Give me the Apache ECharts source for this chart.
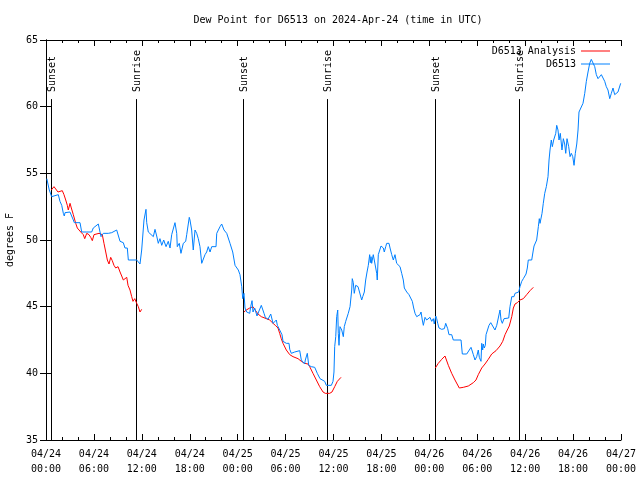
<!DOCTYPE html>
<html><head><meta charset="utf-8">
<script src="https://cdn.jsdelivr.net/npm/echarts@6/dist/echarts.min.js"></script>
<style>html,body{margin:0;padding:0;background:#fff}#c{width:640px;height:480px}</style>
</head><body><div id="c"></div>
<script>
// hours since 2024-04-24 00:00 UTC
var obsTimes = [0.1,0.41,0.71,0.91,1.54,1.75,1.97,2.17,2.29,2.38,3.0,3.22,3.42,3.54,4.26,4.47,5.10,5.72,5.92,6.14,6.55,6.76,6.89,7.18,7.80,8.23,8.43,8.85,9.05,9.27,9.48,9.68,9.89,10.18,10.31,11.36,11.77,11.98,12.27,12.52,12.61,12.81,13.44,13.65,13.86,14.06,14.27,14.49,14.74,15.03,15.31,15.53,15.74,16.15,16.28,16.37,16.44,16.69,16.90,17.19,17.49,17.62,17.94,18.03,18.24,18.44,18.66,18.87,19.07,19.28,19.50,19.70,19.91,20.12,20.32,20.54,20.75,21.29,21.38,21.79,22.0,22.29,22.63,23.04,23.38,23.67,23.88,24.08,24.29,24.51,24.63,24.79,24.92,25.13,25.51,25.63,25.80,25.92,26.13,26.42,26.55,26.96,27.17,27.30,27.46,27.80,28.14,28.43,28.84,28.97,29.14,29.39,29.55,29.68,29.89,30.09,30.43,30.52,30.72,30.93,31.14,31.77,31.97,32.18,32.39,32.47,32.72,32.90,33.22,33.65,33.97,34.15,34.31,34.47,34.90,35.10,35.73,35.94,36.06,36.15,36.28,36.40,36.53,36.60,36.69,36.81,37.03,37.23,37.35,37.53,37.78,37.85,38.07,38.28,38.35,38.48,38.60,38.78,38.91,39.07,39.32,39.53,39.66,39.86,40.03,40.20,40.36,40.53,40.61,40.70,40.78,40.98,41.20,41.41,41.48,41.61,41.73,41.95,42.11,42.24,42.36,42.54,42.66,42.95,43.08,43.29,43.49,43.70,43.91,44.11,44.33,44.54,44.74,44.87,45.17,45.45,45.70,45.87,46.04,46.21,46.42,46.62,46.83,46.96,47.12,47.25,47.46,47.67,47.87,48.08,48.30,48.50,48.62,48.80,48.92,49.05,49.21,49.55,49.88,50.05,50.30,50.46,50.80,51.0,51.97,52.13,52.68,52.88,53.22,53.38,53.51,53.72,53.93,54.13,54.26,54.47,54.56,54.68,54.76,54.88,55.01,55.10,55.31,55.47,55.69,55.94,56.22,56.44,56.64,56.85,56.98,57.14,57.35,57.94,58.10,58.32,58.60,58.73,58.94,59.19,59.35,59.57,59.77,60.11,60.27,60.39,60.82,61.02,61.11,61.32,61.44,61.65,61.77,61.86,62.02,62.11,62.27,62.45,62.65,62.86,62.99,63.11,63.27,63.40,63.57,63.83,63.95,64.11,64.24,64.40,64.61,64.78,64.95,65.08,65.24,65.45,65.62,65.78,65.96,66.12,66.28,66.46,66.62,66.74,66.96,67.24,67.46,67.66,67.87,68.08,68.28,68.50,68.71,68.91,69.12,69.54,69.75,69.96,70.16,70.37,70.59,70.79,71.0,71.21,71.41,71.62,71.83,71.96];
var obsValues = [54.6,53.75,53.25,53.4,53.4,52.9,52.6,52.0,51.8,52.05,52.1,52.0,51.5,51.3,51.3,50.6,50.6,50.6,50.9,51.0,51.2,51.2,50.25,50.5,50.5,50.55,50.6,50.75,50.75,49.9,49.75,49.8,49.4,49.4,48.5,48.5,48.2,49.25,51.5,52.3,51.3,50.6,50.25,50.8,50.3,49.75,50.1,49.6,50.0,49.5,49.9,49.4,50.4,51.3,51.4,50.5,49.5,49.75,49.0,49.75,49.9,50.4,51.7,51.5,50.75,49.25,50.75,50.5,50.1,49.5,48.25,48.25,48.9,49.1,49.5,49.1,49.5,49.5,50.5,51.0,51.2,50.75,50.5,49.75,49.1,48.1,47.95,47.75,47.4,46.5,45.6,46.0,44.9,44.6,44.5,45.0,45.45,44.6,44.9,44.3,44.5,45.1,44.95,44.5,44.2,44.05,44.45,43.75,44.0,43.6,43.4,43.25,42.9,42.4,42.45,42.25,42.25,41.8,41.5,41.4,41.6,41.7,41.0,40.9,40.7,41.0,41.5,40.6,40.5,40.45,40.0,39.9,39.6,39.5,39.4,39.1,39.1,39.4,40.1,42.0,42.75,44.25,44.75,43.0,42.1,43.5,43.25,42.75,43.5,43.9,44.0,44.5,45.0,46.25,47.1,46.8,46.0,46.6,46.75,46.5,46.4,45.5,45.75,46.1,47.0,47.6,48.1,48.9,48.3,48.75,48.25,48.9,48.9,47.5,47.0,48.9,49.0,49.55,49.6,49.4,49.1,49.5,49.75,49.75,49.4,48.9,48.5,48.9,48.25,48.1,48.0,47.5,47.0,46.4,46.1,45.9,45.8,45.4,44.9,44.5,44.25,44.1,44.4,44.6,44.0,43.6,44.2,44.0,43.9,44.2,43.9,44.1,43.7,44.3,44.1,43.75,43.4,43.3,43.35,43.75,43.35,42.9,42.9,42.5,42.5,41.45,41.45,41.5,41.95,41.8,41.4,41.0,41.25,41.75,41.2,40.9,42.25,41.75,42.2,41.9,42.1,42.9,42.8,43.6,43.8,43.8,43.25,43.6,43.7,44.75,44.0,43.75,44.1,44.15,45.0,45.75,45.75,46.0,46.1,46.1,46.5,46.9,47.1,47.45,47.9,48.5,48.5,49.25,49.55,49.55,50.0,51.0,51.6,51.25,51.3,52.0,52.75,53.5,54.0,54.75,56.0,56.75,57.5,57.0,57.5,58.0,58.6,58.25,57.5,58.0,56.75,57.6,57.2,56.5,57.6,57.0,56.25,56.5,56.25,55.6,56.5,57.2,58.25,59.6,59.75,60.25,61.0,61.9,62.6,63.25,63.55,63.4,63.0,62.4,62.1,62.4,62.25,61.9,61.5,61.25,60.6,61.0,61.4,60.9,61.0,61.1,61.25,61.75];
// analysis series; null marks a gap
var anaTimes = [0.66,1.0,1.21,1.50,1.75,2.04,2.25,2.47,2.67,2.79,3.01,3.17,3.42,3.72,3.92,4.13,4.35,4.67,4.85,5.10,5.38,5.60,5.80,6.01,6.22,6.64,6.85,7.05,7.26,7.48,7.68,7.89,8.10,8.30,8.51,8.73,9.02,9.27,9.48,9.68,9.89,10.11,10.27,10.52,10.73,10.89,11.11,11.36,11.56,11.77,11.98,
  18.0,
  24.79,25.08,25.51,25.92,26.13,26.55,26.96,27.59,28.01,28.43,28.71,29.05,29.26,29.46,29.68,30.09,30.52,30.93,31.56,31.97,32.39,32.81,33.02,33.43,33.85,34.27,34.69,34.97,35.52,35.81,36.15,36.48,36.94,
  42.0,
  48.75,49.12,49.55,49.96,50.38,50.80,51.21,51.75,52.25,52.88,53.51,53.84,54.13,54.56,54.97,55.38,55.81,56.35,56.85,57.19,57.48,57.76,58.01,58.32,58.52,58.73,59.02,59.35,59.77,60.19,60.61,61.02];
var anaValues = [53.75,54.0,53.9,53.6,53.45,53.7,53.4,53.0,52.6,52.25,52.75,52.4,51.9,51.25,50.9,50.9,50.6,50.4,50.1,50.5,50.4,50.2,49.95,50.4,50.5,50.5,50.6,50.4,49.75,49.1,48.5,48.2,48.7,48.45,48.1,47.9,48.0,47.6,47.3,47.0,46.9,47.2,46.6,46.25,45.75,45.4,45.6,45.25,45.0,44.6,44.8,
  null,
  44.6,44.75,44.9,45.0,44.8,44.45,44.25,44.1,44.0,43.75,43.6,43.4,43.0,42.6,42.25,41.75,41.4,41.25,41.1,40.9,40.75,40.7,40.5,40.0,39.5,39.0,38.6,38.5,38.5,38.6,39.0,39.4,39.7,
  null,
  40.4,40.75,41.05,41.3,40.6,40.0,39.5,38.9,38.95,39.05,39.3,39.5,39.9,40.4,40.7,41.05,41.45,41.7,42.05,42.4,42.9,43.25,43.55,44.25,44.9,45.2,45.3,45.5,45.6,45.9,46.2,46.45];
var sunTimes = [0.66, 11.3, 24.7, 35.22, 48.75, 59.27];
var sunLabels = ['Sunset','Sunrise','Sunset','Sunrise','Sunset','Sunrise'];
var yTicks = [35,40,45,50,55,60,65];

function zip(a,b){var r=[];for(var i=0;i<a.length;i++)r.push([a[i],b[i]]);return r;}
var FONT = 'DejaVu Sans Mono';
function xLabel(h){
  var d = 24 + Math.floor(h/24 + 1e-9);
  var hh = Math.round(h - (d-24)*24);
  return '04/' + d + '\n' + (hh<10?'0':'') + hh + ':00';
}
var chart = echarts.init(document.getElementById('c'), null, {renderer:'canvas'});
var axisCommon = {
  axisLine:{show:true, lineStyle:{color:'#000', width:1}},
  splitLine:{show:false}
};
chart.setOption({
  animation:false,
  backgroundColor:'#fff',
  title:{text:'Dew Point for D6513 on 2024-Apr-24 (time in UTC)', left:333, top:10, textAlign:'center',
    textStyle:{fontFamily:FONT, fontSize:10, fontWeight:'normal', color:'#000'}},
  legend:{data:[{name:'D6513 Analysis', icon:'rect'},{name:'D6513', icon:'rect'}], orient:'vertical', right:30, top:45, align:'right',
    padding:0, itemWidth:29, itemHeight:1, itemGap:1,
    textStyle:{fontFamily:FONT, fontSize:10, color:'#000', lineHeight:12}},
  grid:{left:46, right:19, top:40, bottom:40, containLabel:false, outerBoundsMode:'none'},
  xAxis:[
    Object.assign({type:'value', min:0, max:72, interval:6, position:'bottom',
      axisTick:{show:true, inside:true, length:6, lineStyle:{color:'#000'}},
      minorTick:{show:true, splitNumber:3, length:3, lineStyle:{color:'#000'}},
      axisLabel:{show:true, formatter:xLabel, margin:7, fontFamily:FONT, fontSize:10, color:'#000', lineHeight:15}
    }, axisCommon),
    Object.assign({type:'value', min:0, max:72, interval:6, position:'top',
      axisTick:{show:true, inside:true, length:6, lineStyle:{color:'#000'}},
      minorTick:{show:true, splitNumber:3, length:3, lineStyle:{color:'#000'}},
      axisLabel:{show:false}
    }, axisCommon)
  ],
  yAxis:[
    Object.assign({type:'value', min:yTicks[0], max:yTicks[yTicks.length-1], interval:5, position:'left',
      name:'degrees F', nameLocation:'middle', nameRotate:90, nameGap:31,
      nameTextStyle:{fontFamily:FONT, fontSize:10, color:'#000'},
      axisTick:{show:true, inside:true, length:6, lineStyle:{color:'#000'}},
      axisLabel:{show:true, margin:8, fontFamily:FONT, fontSize:10, color:'#000'}
    }, axisCommon),
    Object.assign({type:'value', min:yTicks[0], max:yTicks[yTicks.length-1], interval:5, position:'right',
      axisTick:{show:true, inside:true, length:6, lineStyle:{color:'#000'}},
      axisLabel:{show:false}
    }, axisCommon)
  ],
  series:[
    {type:'custom', name:'sun', silent:true, xAxisIndex:0, yAxisIndex:0,
      data: sunTimes.map(function(t,i){return [t,i];}),
      renderItem:function(params, api){
        var t = api.value(0), i = api.value(1);
        var top = api.coord([t, 60.57]), bot = api.coord([t, 35]), lab = api.coord([t, 61.1]);
        var x = Math.round(top[0]) + 0.5;
        return {type:'group', children:[
          {type:'line', shape:{x1:x, y1:top[1], x2:x, y2:bot[1]}, style:{stroke:'#000', lineWidth:1}},
          {type:'text', x:x+1, y:lab[1], rotation:Math.PI/2,
            style:{text:sunLabels[i], fill:'#000', font:'10px "DejaVu Sans Mono"', align:'left', verticalAlign:'middle'}}
        ]};
      }, z:1},
    {type:'line', name:'D6513 Analysis', data:zip(anaTimes, anaValues), showSymbol:false, symbol:'none',
      connectNulls:false, lineStyle:{color:'#ff0000', width:1}, itemStyle:{color:'#ff0000'}, z:2},
    {type:'line', name:'D6513', data:zip(obsTimes, obsValues), showSymbol:false, symbol:'none',
      lineStyle:{color:'#0080ff', width:1}, itemStyle:{color:'#0080ff'}, z:3}
  ]
});
</script>
</body></html>
